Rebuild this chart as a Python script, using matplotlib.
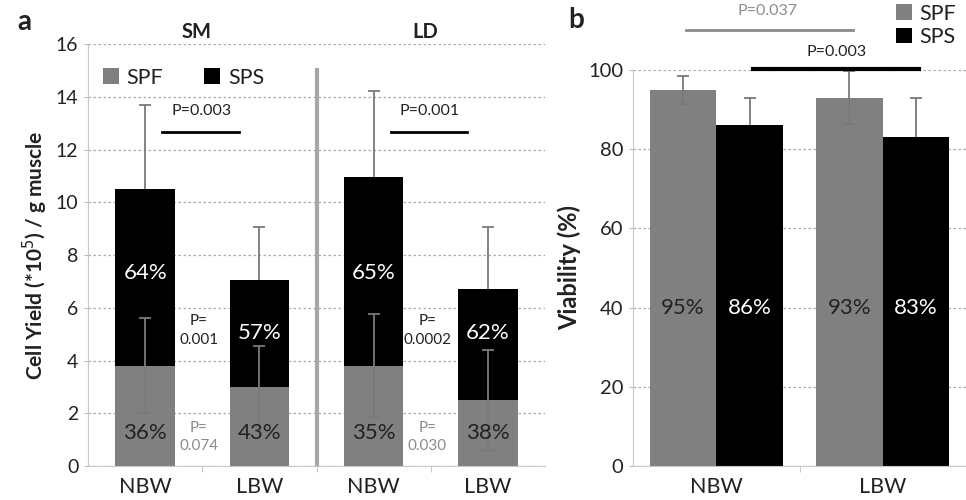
import numpy as np
import matplotlib.pyplot as plt

plt.rcParams['font.family'] = ['Lato', 'DejaVu Sans']

# panel a: cell yield
groups = ['NBW', 'LBW', 'NBW', 'LBW']
muscles = ['SM', 'LD']
yield_spf = [3.8, 3.0, 3.8, 2.5]
yield_sps = [6.7, 4.05, 7.15, 4.2]
err_total = [3.2, 2.0, 3.25, 2.35]
err_spf = [1.8, 1.55, 1.95, 1.9]
pct_spf = ['36%', '43%', '35%', '38%']
pct_sps = ['64%', '57%', '65%', '62%']
p_sps = ['0.001', '0.0002']
p_spf = ['0.074', '0.030']
p_top = ['P=0.003', 'P=0.001']

# panel b: viability
viab_groups = ['NBW', 'LBW']
viab_spf = [95, 93]
viab_sps = [86, 83]
viab_err_spf = [3.5, 6.7]
viab_err_sps = [6.9, 9.9]

GRAY = '#808080'
ECOL = '#7a7a7a'
TXT = '#222222'


def upper_err(axis, xs, ys, errs):
    # one-sided error bar: line + cap only at the top
    tops = np.array(ys) + np.array(errs)
    axis.vlines(xs, ys, tops, color=ECOL, lw=1.3, zorder=3)
    axis.plot(xs, tops, ls='none', marker='_', ms=8, mew=1.3, color=ECOL, zorder=3)


fig = plt.figure(figsize=(9.66, 5.0), dpi=100)
ax = fig.add_axes([0.0911, 0.068, 0.4731, 0.844])
bx = fig.add_axes([0.6553, 0.068, 0.3447, 0.792])

# ---------- panel a ----------
x = np.arange(len(groups))
w = 0.52
total = np.array(yield_spf) + np.array(yield_sps)
ax.bar(x, yield_spf, w, color=GRAY, zorder=2, label='SPF')
ax.bar(x, yield_sps, w, bottom=yield_spf, color='black', zorder=2, label='SPS')
upper_err(ax, x, total, err_total)
ax.errorbar(x, yield_spf, yerr=err_spf, fmt='none', ecolor=ECOL,
            elinewidth=1.3, capsize=4, capthick=1.3, zorder=3)

for i in range(4):
    ax.text(x[i], 1.25, pct_spf[i], ha='center', va='center', fontsize=16, color=TXT, zorder=4)
    ax.text(x[i], 7.3 if total[i] > 9 else 5.05, pct_sps[i], ha='center', va='center',
            fontsize=16, color='white', zorder=4)

for k in range(2):
    xm = 2 * k + 0.5
    ax.text(xm - 0.03, 5.15, 'P=\n' + p_sps[k], ha='center', va='center', fontsize=11,
            color=TXT, linespacing=1.45, zorder=4)
    ax.text(xm - 0.03, 1.1, 'P=\n' + p_spf[k], ha='center', va='center', fontsize=11,
            color='#8c8c8c', linespacing=1.45, zorder=4)
    ax.plot([2 * k + 0.15, 2 * k + 0.82], [12.65, 12.65], color='black', lw=2, zorder=4)
    ax.text(2 * k + 0.49, 13.45, p_top[k], ha='center', va='center', fontsize=11.5, color=TXT)
    ax.text(2 * k + 0.45, 16.45, muscles[k], ha='center', va='center', fontsize=14.5,
            fontweight='bold', color=TXT)

ax.plot([1.5, 1.5], [0, 15], color='#a6a6a6', lw=3, zorder=1)

ax.set_xlim(-0.5, 3.5)
ax.set_ylim(0, 16)
ax.set_yticks(range(0, 17, 2))
ax.set_xticks(x)
ax.set_xticklabels(groups)
ax.set_xticks([0.5, 1.5, 2.5], minor=True)
ax.tick_params(axis='x', which='major', length=0, labelsize=15.5, colors=TXT, pad=8)
ax.tick_params(axis='x', which='minor', length=4, color='#bbbbbb', direction='out')
ax.tick_params(axis='y', length=3, color='#bbbbbb', labelsize=14, colors=TXT, pad=4)
ax.yaxis.grid(True, ls=(0, (2, 2)), color='#aaaaaa', lw=0.9, zorder=0)
ax.set_axisbelow(True)
for s in ['top', 'right']:
    ax.spines[s].set_visible(False)
ax.spines['left'].set_color('#c8c8c8')
ax.spines['bottom'].set_color('#c8c8c8')
ax.set_ylabel('Cell Yield (*10$^5$) / g muscle', fontsize=15, fontweight='bold',
              color=TXT, labelpad=4)
ax.legend(loc='upper left', bbox_to_anchor=(-0.01, 0.99), ncol=2, frameon=False,
          fontsize=15.5, handlelength=0.75, handleheight=0.75, handletextpad=0.35,
          columnspacing=1.9, labelcolor=TXT)

# ---------- panel b ----------
xb = np.arange(len(viab_groups))
bw = 0.4
bx.bar(xb - bw / 2, viab_spf, bw, color=GRAY, zorder=2, label='SPF')
bx.bar(xb + bw / 2, viab_sps, bw, color='black', zorder=2, label='SPS')
bx.errorbar(xb - bw / 2, viab_spf, yerr=viab_err_spf, fmt='none', ecolor=ECOL,
            elinewidth=1.3, capsize=4, capthick=1.3, zorder=3)
upper_err(bx, xb + bw / 2, viab_sps, viab_err_sps)
for i in range(2):
    bx.text(xb[i] - bw / 2, 40, f'{viab_spf[i]}%', ha='center', va='center', fontsize=16,
            color=TXT, zorder=4)
    bx.text(xb[i] + bw / 2, 40, f'{viab_sps[i]}%', ha='center', va='center', fontsize=16,
            color='white', zorder=4)

bx.plot([-0.18, 0.82], [110, 110], color='#8c8c8c', lw=2, clip_on=False)
bx.text(0.31, 115, 'P=0.037', ha='center', va='center', fontsize=11.5, color='#8c8c8c')
bx.plot([0.22, 1.22], [100.2, 100.2], color='black', lw=3, clip_on=False, zorder=5)
bx.text(0.72, 104.5, 'P=0.003', ha='center', va='center', fontsize=11.5, color=TXT)

bx.set_xlim(-0.5, 1.5)
bx.set_ylim(0, 100)
bx.set_yticks(range(0, 101, 20))
bx.set_xticks(xb)
bx.set_xticklabels(viab_groups)
bx.set_xticks([0.5], minor=True)
bx.tick_params(axis='x', which='major', length=0, labelsize=15.5, colors=TXT, pad=8)
bx.tick_params(axis='x', which='minor', length=4, color='#bbbbbb', direction='out')
bx.tick_params(axis='y', length=3, color='#bbbbbb', labelsize=14.5, colors=TXT, pad=4)
bx.yaxis.grid(True, ls=(0, (2, 2)), color='#aaaaaa', lw=0.9, zorder=0)
bx.set_axisbelow(True)
for s in ['top', 'right']:
    bx.spines[s].set_visible(False)
bx.spines['left'].set_color('#c8c8c8')
bx.spines['bottom'].set_color('#c8c8c8')
bx.set_ylabel('Viability (%)', fontsize=17, fontweight='bold', color=TXT, labelpad=5)
bx.legend(loc='upper right', bbox_to_anchor=(1.01, 1.2), frameon=False, fontsize=15.5,
          handlelength=0.75, handleheight=0.75, handletextpad=0.35, labelspacing=0.15,
          labelcolor=TXT, borderaxespad=0.2)

fig.text(0.018, 0.94, 'a', fontsize=20, fontweight='bold', color=TXT)
fig.text(0.588, 0.945, 'b', fontsize=20, fontweight='bold', color=TXT)

fig.savefig('out.png', dpi=100)
